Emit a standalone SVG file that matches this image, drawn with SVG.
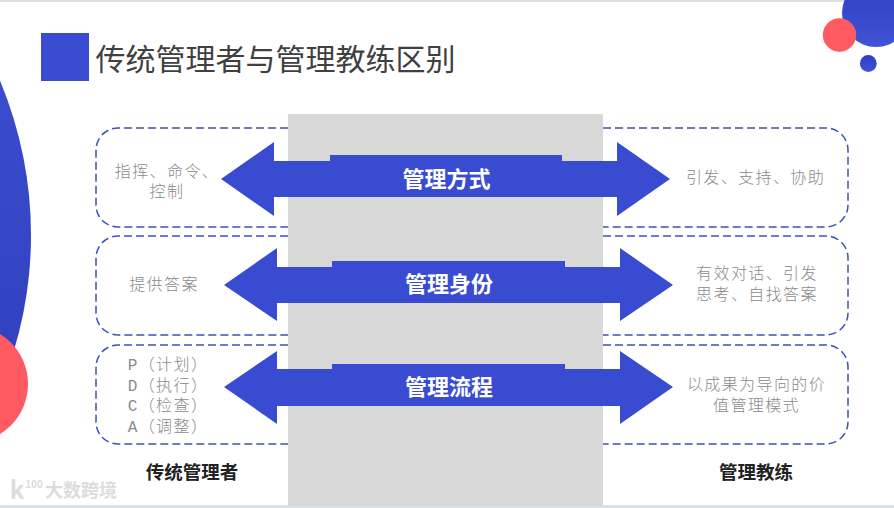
<svg xmlns="http://www.w3.org/2000/svg" width="894" height="508" viewBox="0 0 894 508">
<style>
text{font-family:"Noto Sans CJK SC","Noto Sans",sans-serif;text-anchor:middle}
.box{fill:none;stroke:#3f50b5;stroke-width:1.5;stroke-dasharray:8 4}
.arrow{fill:#394cd1}
.g{font-size:16px;fill:#8a8a8a;font-weight:300;letter-spacing:1.4px}
.m{font-family:"Liberation Mono","Noto Sans CJK SC",monospace;letter-spacing:1.4px}
.w{font-size:22px;fill:#fff;font-weight:700}
.b{font-size:18.500px;fill:#222;font-weight:700}
.wm{fill:#dcdcdc;font-weight:700}
</style>
<defs>
<linearGradient id="gr" x1="0" y1="0" x2="0" y2="1"><stop offset="0" stop-color="#4055d8"/><stop offset="1" stop-color="#2a38b4"/></linearGradient>
<linearGradient id="gr2" x1="0" y1="0" x2="0" y2="1"><stop offset="0" stop-color="#2f3fbe"/><stop offset="1" stop-color="#3f53d8"/></linearGradient>
</defs>
<rect width="894" height="508" fill="#fff"/>
<rect width="894" height="2" fill="#d8e2e6"/>
<rect y="505" width="894" height="3" fill="#d8e2e6"/>
<g id="decor">
<circle cx="-369" cy="235" r="400" fill="url(#gr)"/>
<circle cx="-30.600" cy="384" r="58.600" fill="#fe5a61"/>
<circle cx="876" cy="13" r="34" fill="url(#gr2)"/>
<circle cx="839.500" cy="35" r="16.700" fill="#fe5a61"/>
<circle cx="868.300" cy="63.500" r="8.400" fill="url(#gr2)"/>
</g>
<g id="title">
<rect x="41" y="33" width="48" height="48" fill="#394cd1"/>
<text x="275.500" y="70" font-size="30" fill="#404040">传统管理者与管理教练区别</text>
</g>
<rect id="band" x="288" y="114" width="315" height="392" fill="#d8d8d8"/>
<g id="row1">
<path class="box" d="M288 128H118A22 22 0 0 0 96 150V205A22 22 0 0 0 118 227H288"/>
<path class="box" d="M603 128H826A22 22 0 0 1 848 150V205A22 22 0 0 1 826 227H603"/>
<path class="arrow" d="M221 179 274 142V161H330V155H562V161H617V142L670 179 617 216V197H274V216Z"/>
<text class="w" x="446.500" y="187">管理方式</text>
<text class="g" x="167" y="177">指挥、命令、<tspan x="167" dy="20">控制</tspan></text>
<text class="g" x="755.500" y="183">引发、支持、协助</text>
</g>
<g id="row2">
<path class="box" d="M288 236H118A22 22 0 0 0 96 258V313A22 22 0 0 0 118 335H288"/>
<path class="box" d="M603 236H826A22 22 0 0 1 848 258V313A22 22 0 0 1 826 335H603"/>
<path class="arrow" d="M224 285 277 248V267H332V261H565V267H620V248L673 285 620 321V303H277V321Z"/>
<text class="w" x="449" y="292">管理身份</text>
<text class="g" x="164" y="290">提供答案</text>
<text class="g" x="757" y="279">有效对话、引发<tspan x="757" dy="21">思考、自找答案</tspan></text>
</g>
<g id="row3">
<path class="box" d="M288 345H118A22 22 0 0 0 96 367V422A22 22 0 0 0 118 444H288"/>
<path class="box" d="M603 345H826A22 22 0 0 1 848 367V422A22 22 0 0 1 826 444H603"/>
<path class="arrow" d="M224 387 277 351V369H332V364H565V369H620V351L673 387 620 424V406H277V424Z"/>
<text class="w" x="449" y="395">管理流程</text>
<text class="g m" x="168" y="370">P（计划）<tspan x="168" dy="20.500">D（执行）</tspan><tspan x="168" dy="20.500">C（检查）</tspan><tspan x="168" dy="20.500">A（调整）</tspan></text>
<text class="g" x="756.500" y="390">以成果为导向的价<tspan x="756.500" dy="20.500">值管理模式</tspan></text>
</g>
<g id="labels">
<text class="b" x="192" y="479">传统管理者</text>
<text class="b" x="756" y="479">管理教练</text>
</g>
<g id="watermark">
<text class="wm" x="81" y="497" font-size="18">大数跨境</text>
<text class="wm" x="17" y="499" font-size="24">k</text>
<text class="wm" x="34" y="488" font-size="10">100</text>
</g>
</svg>
